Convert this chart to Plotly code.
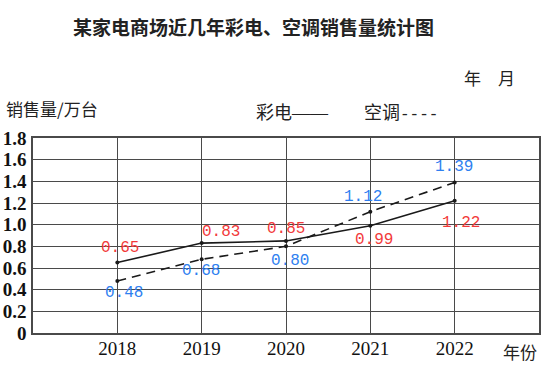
import plotly.graph_objects as go

years = [2018, 2019, 2020, 2021, 2022]
tv_sales = [0.65, 0.83, 0.85, 0.99, 1.22]
ac_sales = [0.48, 0.68, 0.80, 1.12, 1.39]
y_ticks = [0, 0.2, 0.4, 0.6, 0.8, 1.0, 1.2, 1.4, 1.6, 1.8]
y_tick_labels = ["0", "0.2", "0.4", "0.6", "0.8", "1.0", "1.2", "1.4", "1.6", "1.8"]

title_text = "某家电商场近几年彩电、空调销售量统计图"
y_title = "销售量/万台"
x_title = "年份"
date_text = "年\u3000月"
tv_name = "彩电"
ac_name = "空调"

# label offsets (pixels) relative to each point
tv_shift = [(3, 15), (19, 11), (0, 12), (4, -14), (6, -22)]
ac_shift = [(7, -12), (-1, -12), (4, -15), (-7, 15), (-1, 15)]

RED = "#f23a3a"
BLUE = "#2f7ff0"
GRID = "#4a4a4a"

fig = go.Figure()
fig.add_trace(go.Scatter(
    x=years, y=tv_sales, mode="lines+markers", name=tv_name,
    line=dict(color="#1a1a1a", width=1.6),
    marker=dict(color="#1a1a1a", size=4), showlegend=False, hoverinfo="skip"))
fig.add_trace(go.Scatter(
    x=years, y=ac_sales, mode="lines+markers", name=ac_name,
    line=dict(color="#1a1a1a", width=1.6, dash="9px,6px"),
    marker=dict(color="#1a1a1a", size=4), showlegend=False, hoverinfo="skip"))

ann = []
lab_font = "Liberation Mono, DejaVu Sans Mono, monospace"
for x, v, (dx, dy) in zip(years, tv_sales, tv_shift):
    ann.append(dict(x=x, y=v, xref="x", yref="y", text=f"{v:.2f}", showarrow=False,
                    xanchor="center", yanchor="middle",
                    xshift=dx, yshift=dy, font=dict(family=lab_font, size=16, color=RED)))
for x, v, (dx, dy) in zip(years, ac_sales, ac_shift):
    ann.append(dict(x=x, y=v, xref="x", yref="y", text=f"{v:.2f}", showarrow=False,
                    xanchor="center", yanchor="middle",
                    xshift=dx, yshift=dy, font=dict(family=lab_font, size=16, color=BLUE)))

cjk = "Noto Sans CJK SC, sans-serif"
ann += [
    dict(x=0.435, y=1.574, xref="paper", yref="paper", text=f"<b>{title_text}</b>",
         xanchor="center", yanchor="middle",
         showarrow=False, font=dict(family=cjk, size=19, color="#222")),
    dict(x=0.903, y=1.308, xref="paper", yref="paper", text=date_text,
         xanchor="center", yanchor="middle",
         showarrow=False, font=dict(family=cjk, size=17, color="#222")),
    dict(x=-0.058, y=1.149, xref="paper", yref="paper", text=y_title,
         xanchor="left", yanchor="middle",
         showarrow=False, font=dict(family=cjk, size=17, color="#222")),
    dict(x=0.437, y=1.141, xref="paper", yref="paper", xanchor="left", yanchor="middle",
         text=tv_name + "<span style='font-family:Liberation Serif;font-size:18px'>——</span>",
         showarrow=False, font=dict(family=cjk, size=18, color="#222")),
    dict(x=0.650, y=1.141, xref="paper", yref="paper", xanchor="left", yanchor="middle",
         text=ac_name + "<span style='font-family:Liberation Mono;font-size:16px'>----</span>",
         showarrow=False, font=dict(family=cjk, size=18, color="#222")),
    dict(x=0.962, y=-0.097, xref="paper", yref="paper", text=x_title,
         xanchor="center", yanchor="middle",
         showarrow=False, font=dict(family=cjk, size=17, color="#222")),
]

fig.update_layout(
    width=544, height=367,
    margin=dict(l=33, r=5, t=138, b=34),
    paper_bgcolor="white", plot_bgcolor="white",
    annotations=ann,
    xaxis=dict(range=[2017, 2023], tickvals=years, ticktext=[str(y) for y in years],
               showgrid=True, gridcolor=GRID, gridwidth=1.3,
               showline=True, mirror=True, linecolor=GRID, linewidth=1.6,
               zeroline=False, ticks="", ticklabelstandoff=-3, automargin=False,
               tickfont=dict(family="Liberation Serif, serif", size=19, color="#111")),
    yaxis=dict(range=[0, 1.8], tickvals=y_ticks, ticktext=y_tick_labels,
               showgrid=True, gridcolor=GRID, gridwidth=1.3,
               showline=True, mirror=True, linecolor=GRID, linewidth=1.6,
               zeroline=False, ticks="", ticklabelstandoff=1, automargin=False,
               tickfont=dict(family="Liberation Serif, serif", size=19, color="#111", weight="bold")),
)

fig.write_html("out.html", config={"displayModeBar": False},
               post_script="document.body.style.margin='0';")
